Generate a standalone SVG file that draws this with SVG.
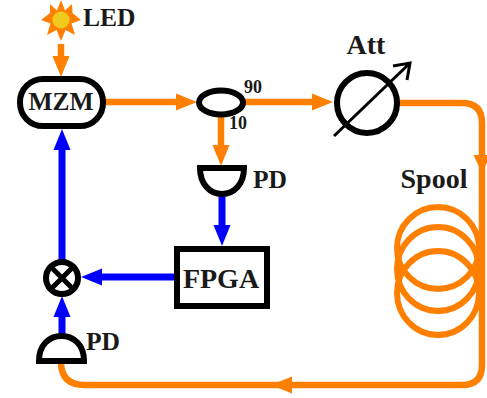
<svg xmlns="http://www.w3.org/2000/svg" width="487" height="398" viewBox="0 0 487 398">
<style>
text{font-family:"Liberation Serif","Times New Roman",serif;font-weight:bold;fill:#1a1a1a}
.l{font-size:25.500px}
.b{font-size:28px}
.s{font-size:18px}
.k{fill:none;stroke:#000;stroke-width:6}
.or{fill:none;stroke:#ff8000;stroke-width:6.500}
.ors{fill:none;stroke:#ff8000;stroke-width:6}
.bl{fill:none;stroke:#0000ff;stroke-width:7}
.oh{fill:#ff8000}
.bh{fill:#0000ff}
</style>
<defs>
<g id="head"><path d="M0 0L-21 -8.500V8.500Z"/></g>
</defs>
<rect width="487" height="398" fill="#fff"/>
<g id="connectors">
<path class="or" d="M61 44V60"/><use href="#head" class="oh" transform="translate(61 77) rotate(90)"/>
<path class="or" d="M104 102H180"/><use href="#head" class="oh" transform="translate(197 102)"/>
<path class="or" d="M243 102H315"/><use href="#head" class="oh" transform="translate(333 102)"/>
<path class="or" d="M221 115V150"/><use href="#head" class="oh" transform="translate(221 166) rotate(90)"/>
<path class="or" d="M398 103H462Q482 103 482 123V365Q482 385 462 385H85Q61 385 61 362"/>
<path class="oh" d="M482 173L473.500 155H490.500Z"/>
<path class="oh" d="M271 385L292 376.500V393.500Z"/>
<path class="bl" d="M222 195V230"/><use href="#head" class="bh" transform="translate(222 246) rotate(90)"/>
<path class="bl" d="M176 277H98"/><use href="#head" class="bh" transform="translate(81 277) rotate(180)"/>
<path class="bl" d="M62 262V145"/><use href="#head" class="bh" transform="translate(62 129) rotate(-90)"/>
<path class="bl" d="M62 336V312"/><use href="#head" class="bh" transform="translate(62 296) rotate(-90)"/>
</g>
<g id="led">
<path fill="#ff8000" d="M61 0L65 10.500L72 4L72.500 13L81 20L71.500 23.500L75 35L65.500 30L61 41L56.500 30L47 35L50.500 23.500L41 20L50 13L50 4L57 10.500Z"/>
<circle cx="61" cy="20" r="8.500" fill="#eecb1c"/>
<text class="l" x="83" y="26">LED</text>
</g>
<g id="mzm">
<rect class="k" x="20" y="79" width="83" height="47" rx="23"/>
<text class="l" x="61" y="110" text-anchor="middle">MZM</text>
</g>
<g id="coupler">
<ellipse class="k" cx="221" cy="102.500" rx="22" ry="12"/>
<text class="s" x="244" y="93">90</text>
<text class="s" x="229" y="129">10</text>
</g>
<g id="att">
<circle class="k" cx="367" cy="103" r="30"/>
<path fill="none" stroke="#000" stroke-width="3" d="M334 136L410 63M393 66L410 63L407 80"/>
<text class="b" x="366" y="54" text-anchor="middle">Att</text>
</g>
<g id="spool">
<ellipse class="ors" cx="438" cy="248" rx="41" ry="41"/>
<ellipse class="ors" cx="438" cy="269" rx="41" ry="42"/>
<ellipse class="ors" cx="438" cy="293" rx="41" ry="42"/>
<text class="b" x="434" y="188" text-anchor="middle">Spool</text>
</g>
<g id="pd1">
<path class="k" d="M200 168H244C244 184 234 194 222 194C210 194 200 184 200 168Z"/>
<text class="l" x="253" y="188">PD</text>
</g>
<g id="fpga">
<rect class="k" x="177" y="249" width="90" height="57"/>
<text class="b" x="221" y="288" text-anchor="middle">FPGA</text>
</g>
<g id="mixer">
<circle class="k" cx="62" cy="278" r="16"/>
<path stroke="#000" stroke-width="5" d="M51 267L73 289M73 267L51 289"/>
</g>
<g id="pd2">
<path class="k" d="M39 361H84C84 345 74 336 61.500 336C49 336 39 345 39 361Z"/>
<text class="l" x="86" y="350">PD</text>
</g>
</svg>
